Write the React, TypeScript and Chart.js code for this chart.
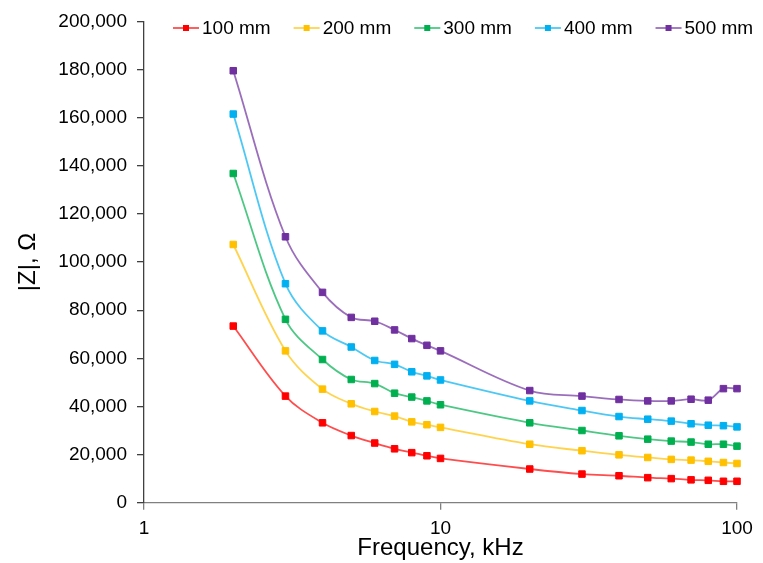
import React, { useEffect, useRef } from "react";
import { Chart, registerables } from "chart.js";

Chart.register(...registerables);

// ---- data ----
const frequencies = [2, 3, 4, 5, 6, 7, 8, 9, 10, 20, 30, 40, 50, 60, 70, 80, 90, 100];
const mm100 = [73400, 44300, 33200, 27900, 24800, 22400, 20800, 19500, 18400, 14000, 11900, 11200, 10400, 10000, 9500, 9300, 8900, 8900];
const mm200 = [107300, 63100, 47200, 41100, 37900, 36000, 33600, 32400, 31300, 24300, 21600, 19900, 18800, 18000, 17700, 17200, 16700, 16300];
const mm300 = [136800, 76200, 59500, 51200, 49500, 45500, 43900, 42300, 40700, 33200, 30000, 27800, 26400, 25600, 25200, 24300, 24300, 23500];
const mm400 = [161500, 91000, 71400, 64700, 59100, 57500, 54400, 52700, 51000, 42300, 38300, 35800, 34700, 33900, 32800, 32200, 32000, 31500];
const mm500 = [179500, 110500, 87400, 77000, 75400, 71800, 68200, 65400, 63100, 46600, 44300, 42900, 42300, 42300, 43000, 42600, 47400, 47400];

const seriesLabels = ["100 mm", "200 mm", "300 mm", "400 mm", "500 mm"];
const seriesValues = [mm100, mm200, mm300, mm400, mm500];
const seriesColors = ["#FF0000", "#FFC000", "#00B050", "#00B0F0", "#7030A0"];
const seriesLineColors = [
  "rgba(255,0,0,0.7)",
  "rgba(255,192,0,0.7)",
  "rgba(0,176,80,0.7)",
  "rgba(0,176,240,0.7)",
  "rgba(112,48,160,0.7)",
];

const xTickValues = [1, 10, 100];
const yMin = 0;
const yMax = 200000;
const yStep = 20000;

const xTitle = "Frequency, kHz";
const yTitle = "|Z|, Ω";

const FONT = "'Liberation Sans', Arial, Helvetica, sans-serif";

export default function App() {
  const canvasRef = useRef<HTMLCanvasElement | null>(null);

  useEffect(() => {
    document.body.style.margin = "0";
    const canvas = canvasRef.current;
    if (!canvas) return;

    const insideLegend = {
      id: "insideLegend",
      afterDraw(chart: any) {
        const c = chart.ctx as CanvasRenderingContext2D;
        c.save();
        c.font = `19px ${FONT}`;
        c.textBaseline = "middle";
        c.textAlign = "left";
        const y = 28;
        let x = 173;
        chart.data.datasets.forEach((ds: any) => {
          c.strokeStyle = ds.borderColor;
          c.lineWidth = 1.8;
          c.beginPath();
          c.moveTo(x, y);
          c.lineTo(x + 26, y);
          c.stroke();
          c.fillStyle = ds.pointBackgroundColor;
          c.fillRect(x + 13 - 3, y - 3, 6, 6);
          c.fillStyle = "#000000";
          c.fillText(ds.label, x + 29, y + 1);
          const w = c.measureText(ds.label).width;
          x += 29 + w + 23;
        });
        c.restore();
      },
    };

    const chart = new Chart(canvas, {
      type: "line",
      data: {
        datasets: seriesLabels.map((label, i) => ({
          label,
          data: frequencies.map((f, j) => ({ x: f, y: seriesValues[i][j] })),
          borderColor: seriesLineColors[i],
          backgroundColor: seriesColors[i],
          borderWidth: 1.8,
          tension: 0.35,
          clip: false,
          pointStyle: "rect",
          pointRadius: 4.6,
          pointBorderWidth: 1,
          pointBorderColor: seriesColors[i],
          pointBackgroundColor: seriesColors[i],
          fill: false,
        })),
      },
      options: {
        responsive: false,
        animation: false,
        devicePixelRatio: 1,
        layout: { padding: { top: 20, right: 26, left: 0, bottom: 0 } },
        plugins: {
          legend: { display: false },
          tooltip: { enabled: false },
        },
        scales: {
          x: {
            type: "logarithmic",
            min: 1,
            max: 100,
            afterBuildTicks: (s: any) => {
              s.ticks = xTickValues.map((v) => ({ value: v }));
            },
            afterFit: (s: any) => {
              s.height = 60.3;
            },
            ticks: {
              autoSkip: false,
              maxRotation: 0,
              padding: 8,
              color: "#000000",
              font: { family: FONT, size: 19 },
              callback: (v: any) => String(v),
            },
            grid: {
              drawOnChartArea: false,
              drawTicks: true,
              tickLength: 7,
              color: "#808080",
              lineWidth: 1.3,
            },
            border: { display: true, color: "#808080", width: 1.3 },
            title: {
              display: true,
              text: xTitle,
              color: "#000000",
              font: { family: FONT, size: 24 },
              padding: { top: 0, bottom: 0 },
            },
          },
          y: {
            type: "linear",
            min: yMin,
            max: yMax,
            afterFit: (s: any) => {
              s.width = 144;
            },
            ticks: {
              stepSize: yStep,
              padding: 10,
              color: "#000000",
              font: { family: FONT, size: 19 },
              callback: (v: any) => Number(v).toLocaleString("en-US"),
            },
            grid: {
              drawOnChartArea: false,
              drawTicks: true,
              tickLength: 7,
              color: "#404040",
              lineWidth: 1.3,
            },
            border: { display: true, color: "#404040", width: 1.3 },
            title: {
              display: true,
              text: yTitle,
              color: "#000000",
              font: { family: FONT, size: 24 },
              padding: { top: 14, bottom: 0 },
            },
          },
        },
      },
      plugins: [insideLegend],
    } as any);

    return () => {
      chart.destroy();
    };
  }, []);

  return (
    <div style={{ width: 763, height: 563, background: "#ffffff" }}>
      <canvas ref={canvasRef} width={763} height={563} style={{ display: "block" }} />
    </div>
  );
}
